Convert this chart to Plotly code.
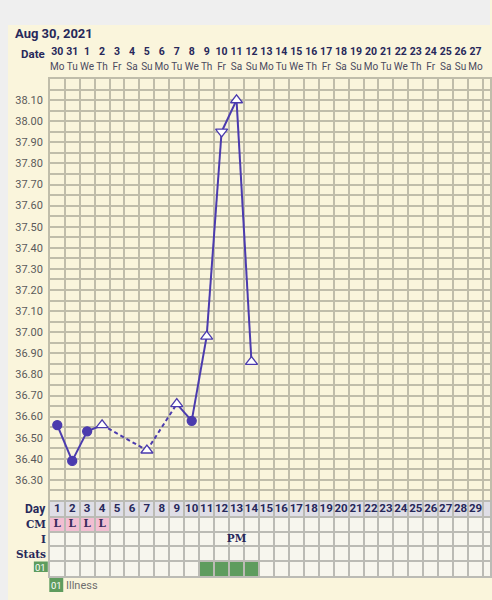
import plotly.graph_objects as go

# chart data
days = [1, 2, 3, 4, 7, 9, 10, 11, 12, 13, 14]
temps = [36.56, 36.39, 36.53, 36.56, 36.44, 36.66, 36.58, 36.98, 37.95, 38.10, 36.86]
symbols = ['circle', 'circle', 'circle', 'triangle-up', 'triangle-up', 'triangle-up',
           'circle', 'triangle-up', 'triangle-down', 'triangle-up', 'triangle-up']

cycle_days = list(range(1, 31))
dates = ['30', '31', '1', '2', '3', '4', '5', '6', '7', '8', '9', '10', '11', '12', '13',
         '14', '15', '16', '17', '18', '19', '20', '21', '22', '23', '24', '25', '26', '27', '28']
weekdays = ['Mo', 'Tu', 'We', 'Th', 'Fr', 'Sa', 'Su', 'Mo', 'Tu', 'We', 'Th', 'Fr', 'Sa', 'Su', 'Mo',
            'Tu', 'We', 'Th', 'Fr', 'Sa', 'Su', 'Mo', 'Tu', 'We', 'Th', 'Fr', 'Sa', 'Su', 'Mo', 'Tu']

temp_ticks = [36.30, 36.40, 36.50, 36.60, 36.70, 36.80, 36.90, 37.00, 37.10, 37.20,
              37.30, 37.40, 37.50, 37.60, 37.70, 37.80, 37.90, 38.00, 38.10]

cm_days = [1, 2, 3, 4]
cm_vals = ['L', 'L', 'L', 'L']
i_days = [13]
i_vals = ['PM']
illness_days = [11, 12, 13, 14]

W, H = 492, 600
CREAM = '#FAF5DC'
GRID = '#C0BDAA'
TGRID = '#BBBBB5'
LINE = '#4B3BAE'
NAVY = '#27285A'
GREEN = '#5E9C5E'
PINK = '#F2BED2'


def px(x):
    return x / W


def py(y):
    return 1 - y / H


fig = go.Figure()

# temperature line segments: dashed across missing days
for i in range(len(days) - 1):
    gap = days[i + 1] - days[i] > 1
    fig.add_trace(go.Scatter(
        x=[days[i], days[i + 1]], y=[temps[i], temps[i + 1]],
        mode='lines', line=dict(color=LINE, width=2, dash='4px,3px' if gap else 'solid'),
        hoverinfo='skip', showlegend=False, xaxis='x', yaxis='y'))

# markers
for sym in ['circle', 'triangle-up', 'triangle-down']:
    xs = [d for d, s in zip(days, symbols) if s == sym]
    ys = [t for t, s in zip(temps, symbols) if s == sym]
    filled = sym == 'circle'
    fig.add_trace(go.Scatter(
        x=xs, y=ys, mode='markers', showlegend=False, cliponaxis=False,
        marker=dict(symbol=sym, size=9 if filled else 10.5,
                    color=LINE if filled else 'white',
                    line=dict(color=LINE, width=1.3)),
        xaxis='x', yaxis='y'))

# header: dates and weekdays
fig.add_trace(go.Scatter(
    x=cycle_days, y=[52] * len(cycle_days), text=['<b>%s</b>' % d for d in dates],
    mode='text', textfont=dict(family='Roboto', size=10.5, color=NAVY),
    cliponaxis=False, showlegend=False, hoverinfo='skip', xaxis='x3', yaxis='y3'))
fig.add_trace(go.Scatter(
    x=cycle_days, y=[67] * len(cycle_days), text=weekdays,
    mode='text', textfont=dict(family='Roboto', size=10, color='#4A4A5E'),
    cliponaxis=False, showlegend=False, hoverinfo='skip', xaxis='x3', yaxis='y3'))

# table texts
fig.add_trace(go.Scatter(
    x=cycle_days, y=[0.5] * len(cycle_days), text=['<b>%d</b>' % d for d in cycle_days],
    mode='text', textfont=dict(family='Roboto', size=11.5, color=NAVY),
    cliponaxis=False, showlegend=False, hoverinfo='skip', xaxis='x2', yaxis='y2'))
fig.add_trace(go.Scatter(
    x=cm_days, y=[1.5] * len(cm_days), text=['<b>%s</b>' % v for v in cm_vals],
    mode='text', textfont=dict(family='DejaVu Serif', size=10.5, color='#3B2A5C'),
    showlegend=False, hoverinfo='skip', xaxis='x2', yaxis='y2'))
fig.add_trace(go.Scatter(
    x=i_days, y=[2.5] * len(i_days), text=['<b>%s</b>' % v for v in i_vals],
    mode='text', textfont=dict(family='DejaVu Serif', size=10.5, color=NAVY),
    cliponaxis=False, showlegend=False, hoverinfo='skip', xaxis='x2', yaxis='y2'))

shapes = []
# gray frame strips
shapes.append(dict(type='rect', xref='paper', yref='paper', x0=0, x1=1, y0=py(25), y1=1,
                   fillcolor='#EFEFEF', line_width=0, layer='below'))
shapes.append(dict(type='rect', xref='paper', yref='paper', x0=0, x1=px(8), y0=0, y1=1,
                   fillcolor='#EFEFEF', line_width=0, layer='below'))
# table backgrounds
shapes.append(dict(type='rect', xref='x2', yref='y2', x0=0.5, x1=31, y0=0, y1=1,
                   fillcolor='#DFDEE6', line_width=0, layer='below'))
shapes.append(dict(type='rect', xref='x2', yref='y2', x0=0.5, x1=31, y0=1, y1=5,
                   fillcolor='#F7F6EE', line_width=0, layer='below'))
for d in cm_days:
    shapes.append(dict(type='rect', xref='x2', yref='y2', x0=d - 0.5, x1=d + 0.5, y0=1, y1=2,
                       fillcolor=PINK, line_width=0, layer='below'))
for d in illness_days:
    shapes.append(dict(type='rect', xref='x2', yref='y2', x0=d - 0.5, x1=d + 0.5, y0=4, y1=5,
                       fillcolor=GREEN, line_width=0, layer='below'))
# "01" boxes
shapes.append(dict(type='rect', xref='paper', yref='paper', x0=px(34), x1=px(48),
                   y0=py(572), y1=py(561.5), fillcolor=GREEN, line_width=0))
shapes.append(dict(type='rect', xref='paper', yref='paper', x0=px(49.5), x1=px(63.5),
                   y0=py(592), y1=py(578), fillcolor=GREEN, line_width=0))

annotations = [
    dict(text='<b>Aug 30, 2021</b>', x=px(13), y=py(33), xanchor='left', yanchor='middle',
         font=dict(family='Roboto', size=13, color=NAVY)),
    dict(text='<b>Date</b>', x=px(47), y=py(54), xanchor='right', yanchor='middle',
         font=dict(family='Roboto', size=11.5, color=NAVY)),
    dict(text='<b>Day</b>', x=px(48), y=py(509), xanchor='right', yanchor='middle',
         font=dict(family='Roboto', size=12, color=NAVY)),
    dict(text='<b>CM</b>', x=px(48), y=py(524), xanchor='right', yanchor='middle',
         font=dict(family='DejaVu Serif', size=10.5, color=NAVY)),
    dict(text='<b>I</b>', x=px(48), y=py(539), xanchor='right', yanchor='middle',
         font=dict(family='DejaVu Serif', size=10.5, color=NAVY)),
    dict(text='<b>Stats</b>', x=px(48), y=py(553.5), xanchor='right', yanchor='middle',
         font=dict(family='DejaVu Serif', size=10.5, color=NAVY)),
    dict(text='01', x=px(41), y=py(567), xanchor='center', yanchor='middle',
         font=dict(family='Roboto', size=9.5, color='white')),
    dict(text='01', x=px(56.5), y=py(585), xanchor='center', yanchor='middle',
         font=dict(family='Roboto', size=9.5, color='white')),
    dict(text='Illness', x=px(64.5), y=py(585), xanchor='left', yanchor='middle',
         font=dict(family='Roboto', size=11, color='#6E6E6E')),
]
for a in annotations:
    a.update(xref='paper', yref='paper', showarrow=False)

x_range = [0.5, 0.5 + (W - 50) / 15]
xgrid = dict(range=x_range, domain=[px(50), 1], tickmode='linear', tick0=0.5, dtick=1,
             showgrid=True, gridwidth=1.5, showticklabels=False,
             zeroline=False, ticks='', fixedrange=True)

fig.update_layout(
    width=W, height=H,
    margin=dict(l=0, r=0, t=0, b=0),
    paper_bgcolor=CREAM, plot_bgcolor=CREAM,
    showlegend=False,
    shapes=shapes, annotations=annotations,
    xaxis=dict(**xgrid, gridcolor=GRID, anchor='y', showline=True, mirror=True,
               linecolor=GRID, linewidth=1.5),
    yaxis=dict(domain=[py(501), py(79)], range=[36.2, 38.2], anchor='x',
               tickmode='array', tickvals=temp_ticks, ticktext=['%.2f' % t for t in temp_ticks],
               showgrid=True, gridcolor=GRID, gridwidth=1.5, zeroline=False, ticks='',
               tickfont=dict(family='Roboto', size=11, color='#5A5A5A'), ticklabelstandoff=3,
               minor=dict(tickmode='linear', tick0=36.2, dtick=0.05, showgrid=True,
                          gridcolor=GRID, gridwidth=1.5),
               showline=True, mirror=True, linecolor=GRID, linewidth=1.5),
    xaxis2=dict(**xgrid, gridcolor=TGRID, anchor='y2', matches='x', showline=True, mirror=True,
                linecolor=TGRID, linewidth=1.5),
    yaxis2=dict(domain=[py(576), py(502)], range=[5, 0], anchor='x2',
                tickmode='array', tickvals=[0, 1, 2, 3, 4, 5], showgrid=True,
                gridcolor=TGRID, gridwidth=1.5, showticklabels=False, zeroline=False,
                ticks='', showline=True, mirror=True, linecolor=TGRID, linewidth=1.5),
    xaxis3=dict(range=x_range, domain=[px(50), 1], anchor='y3', matches='x',
                visible=False, showgrid=False),
    yaxis3=dict(domain=[py(78), py(40)], range=[78, 40], anchor='x3',
                visible=False, showgrid=False),
)

fig.write_html('out.html', config={'displayModeBar': False},
               post_script="document.body.style.margin='0';")
